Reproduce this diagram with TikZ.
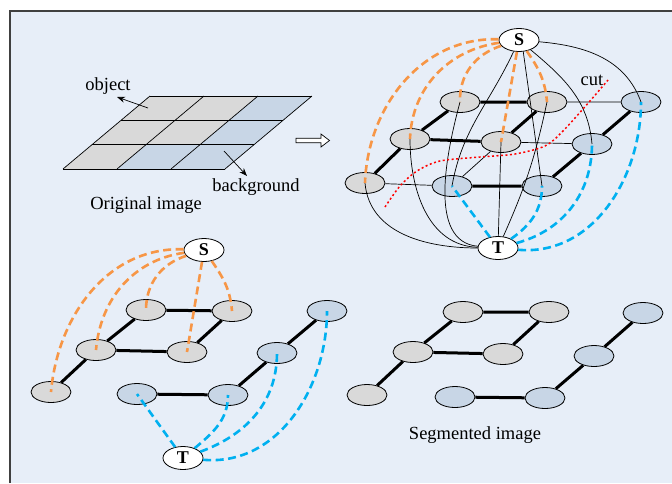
\documentclass[tikz,border=0pt]{standalone}
\usepackage{fontspec}
\setmainfont{Liberation Serif}
\usetikzlibrary{shapes.geometric,arrows.meta}
\definecolor{bgblue}{RGB}{231,238,248}
\definecolor{cellgray}{RGB}{217,217,217}
\definecolor{cellblue}{RGB}{200,214,230}
\definecolor{srcorange}{RGB}{247,150,70}
\definecolor{sinkblue}{RGB}{0,176,240}
\tikzset{
  px/.style={ellipse,draw,line width=.8pt,minimum width=40pt,minimum height=21pt,inner sep=0pt},
  obj/.style={px,fill=cellgray},
  bkg/.style={px,fill=cellblue},
  term/.style={px,fill=white,minimum height=23pt,font=\fontsize{18}{20}\selectfont\bfseries},
  strong/.style={line width=3pt},
  weak/.style={line width=.7pt},
  slink/.style={srcorange,line width=2.6pt,dash pattern=on 8pt off 4.5pt},
  tlink/.style={sinkblue,line width=2.6pt,dash pattern=on 8pt off 4.5pt},
}

\begin{document}
\begin{tikzpicture}[x=1pt,y=-1pt,font=\fontsize{18.5}{22}\selectfont]
    \useasboundingbox (0,0) rectangle (672,483);
    \fill[bgblue] (10,11) rectangle (672,483);
    \draw[black!75,line width=1.5pt] (10,483) -- (10,11) -- (672,11);

    % original image
    \begin{scope}[shift={(63,169)},x={(54pt,0pt)},y={(29pt,24.33pt)}]
        \foreach \i/\j/\c in {0/0/cellgray,1/0/cellblue,2/0/cellblue,0/1/cellgray,1/1/cellgray,2/1/cellblue,0/2/cellgray,1/2/cellgray,2/2/cellblue}
            \fill[\c] (\i,\j) -- ++(1,0) -- ++(0,1) -- ++(-1,0) -- cycle;
        \foreach \k in {0,...,3} {
            \draw[weak] (0,\k) -- (3,\k);
            \draw[weak] (\k,0) -- (\k,3);
        }
    \end{scope}
    \node (objlbl) at (108,86) {object};
    \node (bkglbl) at (256,187) {background};
    \node (origlbl) at (146,205) {Original image};
    \coordinate (objtail) at (148,108);
    \coordinate (objtip) at (117,97);
    \coordinate (bkgtail) at (224,151);
    \coordinate (bkgtip) at (247,176);
    \draw[weak,-{Stealth[length=8pt,width=6pt]}] (objtail) -- (objtip);
    \draw[weak,-{Stealth[length=8pt,width=6pt]}] (bkgtail) -- (bkgtip);
    \draw[weak,fill=white] (296,138.3) -- (321,138.3) -- (321,134) -- (329.5,140.5) -- (321,147) -- (321,142.7) -- (296,142.7) -- cycle;

    % graph with s and t
    \node[obj] (a1) at (460,102) {};
    \node[obj] (a2) at (547,102) {};
    \node[bkg] (a3) at (641,102) {};
    \node[obj] (b1) at (410,139) {};
    \node[obj] (b2) at (501,142) {};
    \node[bkg] (b3) at (592,144) {};
    \node[obj] (c1) at (365,183) {};
    \node[bkg] (c2) at (452,186) {};
    \node[bkg] (c3) at (542,186) {};
    \node[term] (S1) at (519,40) {S};
    \node[term] (T1) at (498,248) {T};
    \draw[strong] (a1) -- (a2) (b1) -- (b2) (c2) -- (c3) (a1) -- (b1) (b1) -- (c1) (a2) -- (b2) (a3) -- (b3) (b3) -- (c3);
    \draw[weak] (a2) -- (a3) (b2) -- (b3) (c1) -- (c2) (b2) -- (c2);
    \draw[weak] (S1) to[out=-5,in=110] (a3.center);
    \draw[weak] (S1) to[out=-40,in=95] (b3.center);
    \draw[weak] (S1.-70) -- (c3.center);
    \draw[weak] (S1) to[out=-115,in=80] (c2.center);
    \draw[weak] (T1) to[out=180,in=-85] (c1.center);
    \draw[weak] (T1) to[out=178,in=-90] (b1.center);
    \draw[weak] (T1) to[out=175,in=-105,looseness=.9] (a1.center);
    \draw[weak] (T1) -- (b2.center);
    \draw[weak] (T1) to[bend right=6] (a2.center);
    \draw[slink] (S1) to[out=178,in=88] (c1.center);
    \draw[slink] (S1) to[out=188,in=88] (b1.center);
    \draw[slink] (S1) to[out=198,in=92] (a1.center);
    \draw[slink] (S1) -- (b2.center);
    \draw[slink] (S1) to[out=-55,in=95] (a2.center);
    \draw[tlink] (T1) -- (c2.center);
    \draw[tlink] (T1) to[out=35,in=-90] (c3.center);
    \draw[tlink] (T1) to[out=15,in=-90] (b3.center);
    \draw[tlink] (T1) to[out=-5,in=-90] (a3.center);
    \draw[red,line width=1.5pt,dash pattern=on 2pt off 2.5pt] plot[smooth] coordinates {(385,207) (400,186) (417,171) (440,161) (480,157) (515,154) (545,146) (563,131) (590,101) (608,80)};
    \node (cutlbl) at (592,80) {cut};

    % cut graph
    \node[obj] (g1) at (146,310) {};
    \node[obj] (g2) at (232,311) {};
    \node[obj] (g3) at (96,350) {};
    \node[obj] (g4) at (187,352) {};
    \node[obj] (g5) at (51,392) {};
    \node[bkg] (h1) at (327,311) {};
    \node[bkg] (h2) at (277,353) {};
    \node[bkg] (h3) at (137,394) {};
    \node[bkg] (h4) at (228,395) {};
    \node[term] (S2) at (204,250) {S};
    \node[term] (T2) at (183,458) {T};
    \draw[strong] (g1) -- (g2) (g3) -- (g4) (g1) -- (g3) (g2) -- (g4) (g3) -- (g5) (h1) -- (h2) (h2) -- (h4) (h3) -- (h4);
    \draw[slink] (S2) to[out=178,in=85] (g5.center);
    \draw[slink] (S2) to[out=188,in=85] (g3.center);
    \draw[slink] (S2) to[out=198,in=90] (g1.center);
    \draw[slink] (S2) -- (g4.center);
    \draw[slink] (S2) to[out=-55,in=95] (g2.center);
    \draw[tlink] (T2) -- (h3.center);
    \draw[tlink] (T2) to[out=40,in=-90] (h4.center);
    \draw[tlink] (T2) to[out=20,in=-90] (h2.center);
    \draw[tlink] (T2) to[out=-5,in=-90] (h1.center);

    % segmented image
    \node[obj] (k1) at (463,312) {};
    \node[obj] (k2) at (549,312) {};
    \node[obj] (k3) at (413,352) {};
    \node[obj] (k4) at (503,354) {};
    \node[obj] (k5) at (367,395) {};
    \node[bkg] (m1) at (643,313) {};
    \node[bkg] (m2) at (594,356) {};
    \node[bkg] (m3) at (455,397) {};
    \node[bkg] (m4) at (545,398) {};
    \draw[strong] (k1) -- (k2) (k3) -- (k4) (k1) -- (k3) (k2) -- (k4) (k3) -- (k5) (m1) -- (m2) (m2) -- (m4) (m3) -- (m4);
    \node (seglbl) at (475,435) {Segmented image};
\end{tikzpicture}
\end{document}
